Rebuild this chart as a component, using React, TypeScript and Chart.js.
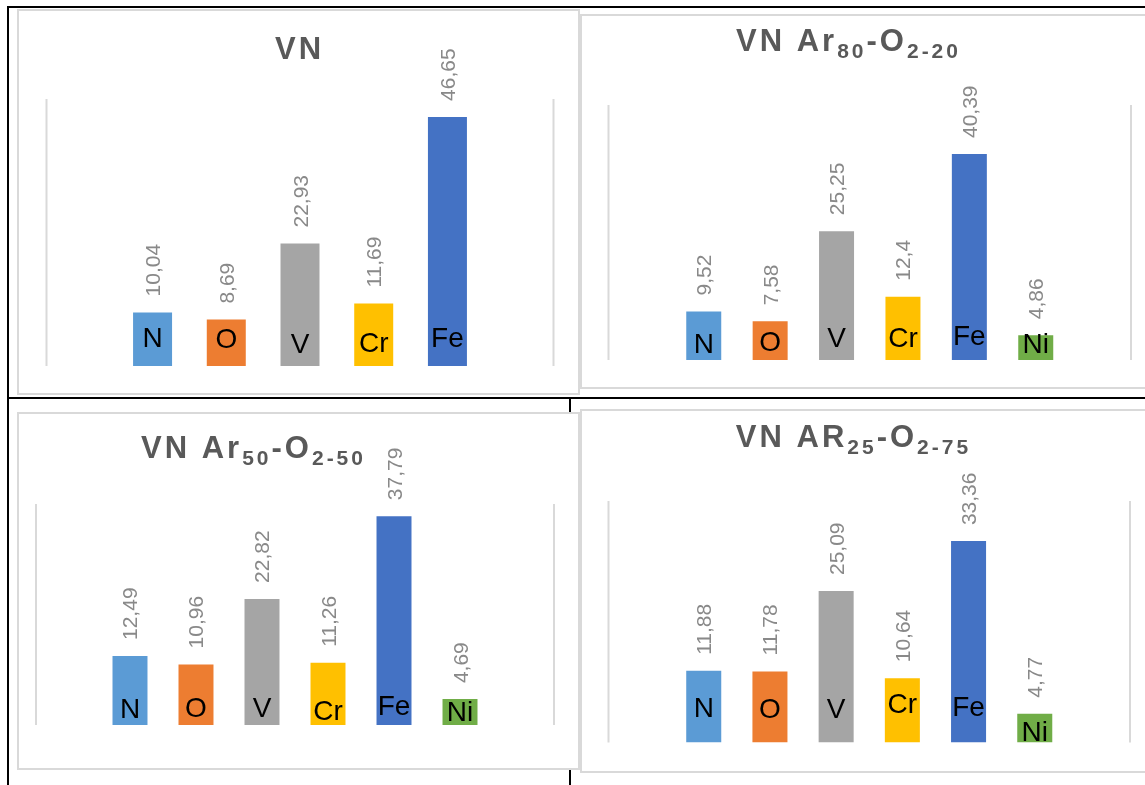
import React, { useEffect, useRef } from "react";
import { Chart, registerables } from "chart.js";

Chart.register(...registerables);

// Element order and composition (at.%) of each coating
const ELEMENTS_5 = ["N", "O", "V", "Cr", "Fe"];
const ELEMENTS_6 = ["N", "O", "V", "Cr", "Fe", "Ni"];

const VN_VALUES = [10.04, 8.69, 22.93, 11.69, 46.65];
const AR80_VALUES = [9.52, 7.58, 25.25, 12.4, 40.39, 4.86];
const AR50_VALUES = [12.49, 10.96, 22.82, 11.26, 37.79, 4.69];
const AR25_VALUES = [11.88, 11.78, 25.09, 10.64, 33.36, 4.77];

const ELEMENT_COLORS: Record<string, string> = {
  N: "#5B9BD5",
  O: "#ED7D31",
  V: "#A5A5A5",
  Cr: "#FFC000",
  Fe: "#4472C4",
  Ni: "#70AD47",
};

type Seg = { text: string; sub?: boolean };

const TITLE_VN: Seg[] = [{ text: "VN" }];
const TITLE_AR80: Seg[] = [
  { text: "VN Ar" },
  { text: "80", sub: true },
  { text: "-O" },
  { text: "2-20", sub: true },
];
const TITLE_AR50: Seg[] = [
  { text: "VN Ar" },
  { text: "50", sub: true },
  { text: "-O" },
  { text: "2-50", sub: true },
];
const TITLE_AR25: Seg[] = [
  { text: "VN AR" },
  { text: "25", sub: true },
  { text: "-O" },
  { text: "2-75", sub: true },
];

type PanelCfg = {
  title: Seg[];
  elements: string[];
  values: number[];
  yMax: number;
  box: { left: number; top: number; width: number; height: number };
  pad: { left: number; right: number; top: number; bottom: number };
  titleAt: { x: number; y: number };
  catPct: number;
  barPct: number;
  nameLift: number[];
};

const PANELS: PanelCfg[] = [
  {
    title: TITLE_VN,
    elements: ELEMENTS_5,
    values: VN_VALUES,
    yMax: 50,
    box: { left: 17, top: 9, width: 563, height: 386 },
    pad: { left: 27.5, right: 24.5, top: 88, bottom: 27 },
    titleAt: { x: 279, y: 48 },
    catPct: 0.727,
    barPct: 0.529,
    nameLift: [19, 18, 13, 14, 19],
  },
  {
    title: TITLE_AR80,
    elements: ELEMENTS_6,
    values: AR80_VALUES,
    yMax: 50,
    box: { left: 580, top: 14, width: 580, height: 375 },
    pad: { left: 26.5, right: 27, top: 89, bottom: 27 },
    titleAt: { x: 265, y: 35 },
    catPct: 0.7625,
    barPct: 0.527,
    nameLift: [7, 9, 13, 13, 15, 7],
  },
  {
    title: TITLE_AR50,
    elements: ELEMENTS_6,
    values: AR50_VALUES,
    yMax: 40,
    box: { left: 17, top: 412, width: 563, height: 358 },
    pad: { left: 17, right: 24, top: 90, bottom: 43 },
    titleAt: { x: 233, y: 44 },
    catPct: 0.7645,
    barPct: 0.53,
    nameLift: [7, 8, 8, 5, 10, 4],
  },
  {
    title: TITLE_AR25,
    elements: ELEMENTS_6,
    values: AR25_VALUES,
    yMax: 40,
    box: { left: 580, top: 409, width: 580, height: 364 },
    pad: { left: 26.5, right: 28, top: 90, bottom: 28.5 },
    titleAt: { x: 270, y: 36 },
    catPct: 0.7617,
    barPct: 0.529,
    nameLift: [26, 25, 25, 30, 27, 2],
  },
];

const FONT = '"Liberation Sans", Arial, sans-serif';

const formatValue = (v: number) => String(v).replace(".", ",");

function Panel({ cfg }: { cfg: PanelCfg }) {
  const ref = useRef<HTMLCanvasElement>(null);

  useEffect(() => {
    const canvas = ref.current;
    if (!canvas) return;

    const decor = {
      id: "panelDecor",
      beforeDatasetsDraw(chart: any) {
        const { ctx, chartArea } = chart;
        ctx.save();
        ctx.strokeStyle = "#d9d9d9";
        ctx.lineWidth = 2;
        ctx.beginPath();
        ctx.moveTo(chartArea.left, chartArea.top);
        ctx.lineTo(chartArea.left, chartArea.bottom);
        ctx.moveTo(chartArea.right, chartArea.top);
        ctx.lineTo(chartArea.right, chartArea.bottom);
        ctx.stroke();
        ctx.restore();
      },
      afterDatasetsDraw(chart: any) {
        const { ctx } = chart;
        cfg.elements.forEach((el, i) => {
          const bar: any = chart.getDatasetMeta(i).data[0];
          if (!bar) return;
          // value above the bar, rotated
          ctx.save();
          ctx.translate(bar.x + 7.5, bar.y - 16);
          ctx.rotate(-Math.PI / 2);
          ctx.font = `21px ${FONT}`;
          ctx.fillStyle = "#898989";
          ctx.textAlign = "left";
          ctx.textBaseline = "alphabetic";
          ctx.fillText(formatValue(cfg.values[i]), 0, 0);
          ctx.restore();
          // element symbol at the bar base
          ctx.save();
          ctx.font = `28px ${FONT}`;
          ctx.fillStyle = "#000000";
          ctx.textAlign = "center";
          ctx.textBaseline = "alphabetic";
          ctx.fillText(el, bar.x, bar.base - cfg.nameLift[i]);
          ctx.restore();
        });
      },
      afterDraw(chart: any) {
        const { ctx } = chart;
        ctx.save();
        ctx.fillStyle = "#595959";
        ctx.textAlign = "left";
        ctx.textBaseline = "alphabetic";
        const spacing = 3;
        (ctx as any).letterSpacing = `${spacing}px`;
        const fontFor = (s: Seg) => (s.sub ? `bold 21px ${FONT}` : `bold 31px ${FONT}`);
        let total = 0;
        const widths = cfg.title.map((s) => {
          ctx.font = fontFor(s);
          const w = ctx.measureText(s.text).width;
          total += w;
          return w;
        });
        total -= spacing;
        let x = cfg.titleAt.x - total / 2;
        cfg.title.forEach((s, i) => {
          ctx.font = fontFor(s);
          ctx.fillText(s.text, x, cfg.titleAt.y + (s.sub ? 7 : 0));
          x += widths[i];
        });
        ctx.restore();
      },
    };

    const chart = new Chart(canvas, {
      type: "bar",
      data: {
        labels: [""],
        datasets: cfg.elements.map((el, i) => ({
          label: el,
          data: [cfg.values[i]],
          backgroundColor: ELEMENT_COLORS[el],
          borderWidth: 0,
        })),
      },
      options: {
        responsive: false,
        animation: false,
        devicePixelRatio: 1,
        layout: { padding: cfg.pad },
        datasets: {
          bar: { categoryPercentage: cfg.catPct, barPercentage: cfg.barPct },
        },
        scales: {
          x: { display: false },
          y: { display: false, min: 0, max: cfg.yMax },
        },
        plugins: {
          legend: { display: false },
          tooltip: { enabled: false },
          title: { display: false },
        },
      } as any,
      plugins: [decor],
    });

    return () => chart.destroy();
  }, [cfg]);

  const w = cfg.box.width - 4;
  const h = cfg.box.height - 4;
  return (
    <div
      style={{
        position: "absolute",
        left: cfg.box.left,
        top: cfg.box.top,
        width: cfg.box.width,
        height: cfg.box.height,
        border: "2px solid #d9d9d9",
        boxSizing: "border-box",
        background: "#ffffff",
      }}
    >
      <canvas ref={ref} width={w} height={h} style={{ display: "block", width: w, height: h }} />
    </div>
  );
}

const line = (left: number, top: number, width: number, height: number) => (
  <div style={{ position: "absolute", left, top, width, height, background: "#000000" }} />
);

export default function App() {
  return (
    <div
      style={{
        position: "absolute",
        left: 0,
        top: 0,
        width: 1145,
        height: 785,
        overflow: "hidden",
        background: "#ffffff",
      }}
    >
      {line(7, 6, 1138, 2)}
      {line(7, 6, 2, 779)}
      {line(7, 397, 1138, 2)}
      {line(569, 397, 2, 388)}
      {PANELS.map((p, i) => (
        <Panel key={i} cfg={p} />
      ))}
    </div>
  );
}
